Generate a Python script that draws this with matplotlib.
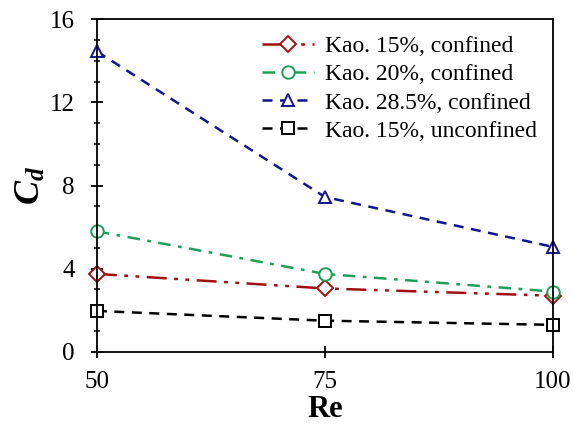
import matplotlib
matplotlib.use("Agg")
import matplotlib.pyplot as plt
from matplotlib.ticker import MultipleLocator

re_vals = [50, 75, 100]
kao15_conf = [3.75, 3.05, 2.7]
kao20_conf = [5.8, 3.75, 2.9]
kao285_conf = [14.45, 7.45, 5.05]
kao15_unconf = [1.97, 1.5, 1.3]
labels = ["Kao. 15%, confined", "Kao. 20%, confined",
          "Kao. 28.5%, confined", "Kao. 15%, unconfined"]

plt.rcParams['font.family'] = ['Liberation Serif', 'DejaVu Serif']
plt.rcParams['mathtext.fontset'] = 'custom'
plt.rcParams['mathtext.it'] = 'Liberation Serif:italic:bold'
plt.rcParams['mathtext.rm'] = 'Liberation Serif:bold'

fig = plt.figure(figsize=(5.73, 4.26), dpi=100)
ax = fig.add_axes([0.169, 0.174, 0.796, 0.781])

red = "#A01010"
green = "#1E9E5A"
navy = "#14148C"
ms = 9
lw = 1.8
ax.plot(re_vals, kao15_conf, color=red, dashes=(8, 3, 1.5, 3, 1.5, 3), lw=lw,
        marker='D', ms=8, mfc='white', mec=red, mew=1.4, label=labels[0], clip_on=False)
ax.plot(re_vals, kao20_conf, color=green, dashes=(5, 3, 1.5, 3), lw=lw,
        marker='o', ms=ms, mfc='white', mec=green, mew=1.4, label=labels[1], clip_on=False)
ax.plot(re_vals, kao285_conf, color=navy, dashes=(4, 3), lw=lw,
        marker='^', ms=ms, mfc='white', mec=navy, mew=1.4, label=labels[2], clip_on=False)
ax.plot(re_vals, kao15_unconf, color='black', dashes=(4, 3), lw=lw,
        marker='s', ms=ms, mfc='white', mec='black', mew=1.4, label=labels[3], clip_on=False)

ax.set_xlim(50, 100)
ax.set_ylim(0, 16)
ax.set_xticks([50, 75, 100])
ax.yaxis.set_major_locator(MultipleLocator(4))
ax.yaxis.set_minor_locator(MultipleLocator(1))
ax.tick_params(axis='both', which='major', direction='inout', length=8, width=1.3,
               labelsize=18)
ax.tick_params(axis='x', which='major', pad=10)
ax.tick_params(axis='y', which='major', pad=12)
ax.tick_params(axis='y', which='minor', direction='inout', length=5, width=1.1)
for s in ax.spines.values():
    s.set_linewidth(1.3)

ax.set_xlabel("Re", fontsize=22, fontweight='bold', labelpad=1)
ax.set_ylabel("$C_d$", fontsize=26, labelpad=1)

leg = ax.legend(loc='upper left', bbox_to_anchor=(0.325, 1.0), frameon=False,
                fontsize=17, handlelength=2.2, handletextpad=0.5,
                labelspacing=0.28, borderaxespad=0.3)

fig.savefig("out.png", dpi=100)
